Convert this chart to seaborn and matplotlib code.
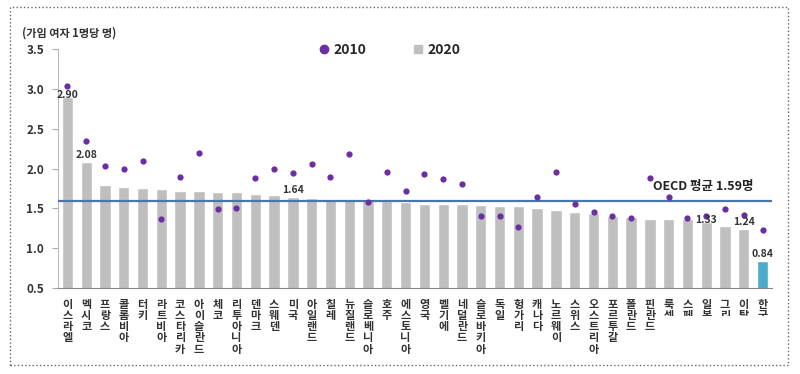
import matplotlib
matplotlib.use('Agg')
import matplotlib.pyplot as plt
import seaborn as sns
from matplotlib.patches import Rectangle
from matplotlib.lines import Line2D
from matplotlib.transforms import Bbox, TransformedBbox

# 합계출산율 (가임 여자 1명당 명), OECD 회원국
countries = ['이스라엘', '멕시코', '프랑스', '콜롬비아', '터키', '라트비아', '코스타리카',
             '아이슬란드', '체코', '리투아니아', '덴마크', '스웨덴', '미국', '아일랜드',
             '칠레', '뉴질랜드', '슬로베니아', '호주', '에스토니아', '영국', '벨기에',
             '네덜란드', '슬로바키아', '독일', '헝가리', '캐나다', '노르웨이', '스위스',
             '오스트리아', '포르투갈', '폴란드', '핀란드', '룩셈부르크', '스페인', '일본',
             '그리스', '이탈리아', '한국']
tfr_2020 = [2.90, 2.08, 1.79, 1.77, 1.76, 1.74, 1.72, 1.72, 1.71, 1.70, 1.68, 1.67,
            1.64, 1.63, 1.61, 1.61, 1.60, 1.59, 1.58, 1.56, 1.55, 1.55, 1.54, 1.53,
            1.53, 1.50, 1.48, 1.46, 1.44, 1.41, 1.39, 1.37, 1.37, 1.36, 1.33, 1.28,
            1.24, 0.84]
tfr_2010 = [3.03, 2.35, 2.03, 2.00, 2.09, 1.37, 1.89, 2.20, 1.49, 1.50, 1.88, 1.99,
            1.94, 2.06, 1.89, 2.18, 1.58, 1.96, 1.72, 1.93, 1.87, 1.80, 1.40, 1.40,
            1.26, 1.64, 1.96, 1.55, 1.45, 1.40, 1.38, 1.88, 1.64, 1.38, 1.40, 1.49,
            1.42, 1.23]
oecd_avg = 1.59
labeled = {'이스라엘': 2.90, '멕시코': 2.08, '미국': 1.64, '일본': 1.33, '이탈리아': 1.24, '한국': 0.84}

sns.set_style('white')
plt.rcParams['font.family'] = ['Noto Sans CJK KR', 'DejaVu Sans']

GRAY = '#BFBFBF'
KOREA = '#4BACC6'
PURPLE = '#6B2FA3'
LINE = '#4A76AE'

fig = plt.figure(figsize=(8, 3.74), dpi=100)
ax = fig.add_axes([58 / 800, 1 - 288 / 374, 714 / 800, 239 / 374])

bar_colors = [KOREA if c == '한국' else GRAY for c in countries]
sns.barplot(x=countries, y=tfr_2020, hue=countries, palette=bar_colors,
            legend=False, width=0.6, ax=ax, saturation=1)
sns.stripplot(x=countries, y=tfr_2010, color=PURPLE, jitter=False, size=4.5,
              linewidth=0, ax=ax, zorder=4)

ax.axhline(oecd_avg, color=LINE, lw=1.6, zorder=3)
ax.text(36.5, oecd_avg + 0.1, f'OECD 평균 {oecd_avg}명', ha='right', va='bottom',
        fontsize=9, fontweight='bold', color='#222222')

# 값 표시
offsets = {'이스라엘': -0.07, '일본': -0.07}
for i, c in enumerate(countries):
    if c in labeled:
        v = labeled[c]
        ax.text(i, v + 0.03 + offsets.get(c, 0), f'{v:.2f}', ha='center', va='bottom',
                fontsize=7.5, fontweight='bold', color='#333333', zorder=5)

ax.set_ylim(0.5, 3.5)
ax.set_xlim(-0.5, len(countries) - 0.5)
ax.set_yticks([0.5, 1.0, 1.5, 2.0, 2.5, 3.0, 3.5])
ax.set_yticklabels([f'{t:.1f}' for t in ax.get_yticks()], fontsize=8.5,
                   fontweight='bold', color='#333333')
ax.set_xticks(range(len(countries)))
ax.set_xticklabels(['\n'.join(c) for c in countries], rotation=0, fontsize=8,
                   fontweight='bold', color='#333333', linespacing=0.82, va='top')
ax.set_xticks([i - 0.5 for i in range(len(countries) + 1)], minor=True)
ax.tick_params(axis='x', which='major', length=0, pad=7)
ax.tick_params(axis='x', which='minor', length=4, color='#888888', direction='out')
ax.tick_params(axis='y', length=4, color='#AAAAAA', direction='out', left=True, pad=6)
ax.set_xlabel('')
ax.set_ylabel('')

for s in ['top', 'right']:
    ax.spines[s].set_visible(False)
ax.spines['left'].set_color('#BBBBBB')
ax.spines['bottom'].set_color('#888888')

# 오른쪽 끝 국가명은 원본처럼 잘림
clip = TransformedBbox(Bbox.from_extents(0, 58 / 374, 1, 1), fig.transFigure)
for lbl in ax.get_xticklabels()[-6:]:
    lbl.set_clip_on(True)
    lbl.set_clip_box(clip)

fig.text(22 / 800, 1 - 33 / 374, '(가임 여자 1명당 명)', ha='left', va='center',
         fontsize=8, fontweight='bold', color='#333333')

handles = [Line2D([], [], marker='o', ls='none', color=PURPLE, markersize=6),
           Line2D([], [], marker='s', ls='none', color=GRAY, markersize=6)]
fig.legend(handles, ['2010', '2020'], loc='center', ncol=2, frameon=False,
           bbox_to_anchor=(389 / 800, 1 - 50 / 374), columnspacing=3.2,
           handletextpad=0.2, handlelength=1.0, prop={'weight': 'bold', 'size': 10})

fig.patches.append(Rectangle((10 / 800, 1 - 365 / 374), 778 / 800, 358 / 374,
                             transform=fig.transFigure, fill=False, ls=':',
                             lw=1, edgecolor='#666666'))

fig.savefig('out.png', dpi=100)
